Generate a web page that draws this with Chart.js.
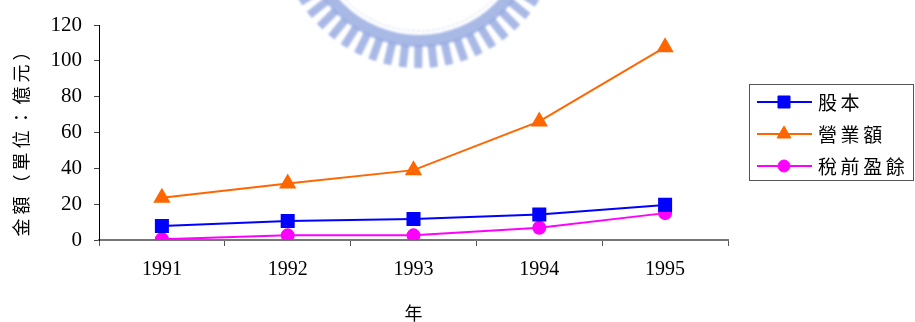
<!DOCTYPE html>
<html>
<head>
<meta charset="utf-8">
<script src="https://cdn.jsdelivr.net/npm/chart.js@4/dist/chart.umd.min.js"></script>
<style>
  html, body { margin: 0; padding: 0; background: #fff; }
  #wrap { width: 915px; height: 322px; }
</style>
</head>
<body>
<div id="wrap"><canvas id="c" width="915" height="322"></canvas></div>
<script>
// Years on the horizontal axis
const years = ['1991', '1992', '1993', '1994', '1995'];
// Amounts in 億元
const capital = [7.8, 10.6, 11.7, 14.2, 19.6];       // 股本
const revenue = [23.6, 31.5, 39.0, 66.2, 107.6];     // 營業額
const pretaxProfit = [0.4, 2.6, 2.6, 6.8, 15.0];     // 稅前盈餘
const seriesNames = ['股本', '營業額', '稅前盈餘'];
const yTitle = '金額（單位：億元）';
const xTitle = '年';

const CJK = '"Noto Sans CJK TC", "Noto Sans CJK SC", sans-serif';
const SERIF = '"Liberation Serif", "DejaVu Serif", serif';

// draw a string one glyph at a time with extra spacing
function spacedText(ctx, text, x, y, gap) {
  let cx = x;
  for (const ch of text) {
    ctx.fillText(ch, cx, y);
    cx += ctx.measureText(ch).width + gap;
  }
  return cx;
}
function spacedWidth(ctx, text, gap) {
  let w = 0;
  for (const ch of text) w += ctx.measureText(ch).width + gap;
  return w - gap;
}

// faint emblem behind the top of the plot
const emblem = {
  id: 'emblem',
  beforeDraw(chart) {
    const ctx = chart.ctx;
    const cx = 419, cy = -72;
    ctx.save();
    ctx.filter = 'blur(0.9px)';
    ctx.fillStyle = 'rgba(140,162,222,0.75)';
    // solid band
    ctx.beginPath();
    ctx.arc(cx, cy, 119, 0, Math.PI);
    ctx.arc(cx, cy, 107, Math.PI, 0, true);
    ctx.closePath();
    ctx.fill();
    // teeth
    const step = 0.112;
    for (let a = 0.12; a < Math.PI - 0.08; a += step) {
      ctx.save();
      ctx.translate(cx, cy);
      ctx.rotate(a - Math.PI / 2);
      ctx.fillRect(-4, 117, 8, 23);
      ctx.restore();
    }
    // thin inner ring
    ctx.strokeStyle = 'rgba(160,176,228,0.55)';
    ctx.lineWidth = 1;
    ctx.setLineDash([3, 2]);
    ctx.beginPath();
    ctx.arc(cx, cy, 103, 0.2, Math.PI - 0.2);
    ctx.stroke();
    ctx.restore();
  }
};

// axis titles and boxed legend
const decorations = {
  id: 'decorations',
  afterDraw(chart) {
    const ctx = chart.ctx;
    const area = chart.chartArea;
    ctx.save();
    // vertical y title
    ctx.font = '18px ' + CJK;
    ctx.fillStyle = '#000';
    ctx.textBaseline = 'middle';
    ctx.textAlign = 'left';
    const gap = 4;
    const w = spacedWidth(ctx, yTitle, gap);
    ctx.translate(21, (area.top + area.bottom) / 2 + 7);
    ctx.rotate(-Math.PI / 2);
    spacedText(ctx, yTitle, -w / 2, 0, gap);
    ctx.restore();

    // x title
    ctx.save();
    ctx.font = '18px ' + CJK;
    ctx.fillStyle = '#000';
    ctx.textAlign = 'center';
    ctx.textBaseline = 'middle';
    ctx.fillText(xTitle, (area.left + area.right) / 2, 313);
    ctx.restore();

    // legend
    ctx.save();
    const bx = 749.5, by = 84.5, bw = 164, bh = 96;
    ctx.strokeStyle = '#555';
    ctx.lineWidth = 1;
    ctx.strokeRect(bx, by, bw, bh);
    const rows = [102, 134, 166];
    ctx.font = '19px ' + CJK;
    ctx.textBaseline = 'middle';
    ctx.textAlign = 'left';
    chart.data.datasets.forEach((ds, i) => {
      const y = rows[i];
      ctx.strokeStyle = ds.borderColor;
      ctx.fillStyle = ds.borderColor;
      ctx.lineWidth = 2;
      ctx.beginPath();
      ctx.moveTo(757, y);
      ctx.lineTo(812, y);
      ctx.stroke();
      ctx.lineWidth = 1;
      Chart.helpers.drawPoint(ctx, {
        pointStyle: ds.pointStyle,
        radius: ds.pointRadius,
        borderWidth: 1
      }, 784, y);
      ctx.fillStyle = '#000';
      spacedText(ctx, ds.label, 818, y + 1, 3.6);
    });
    ctx.restore();
  }
};

function styled(label, data, color, style, radius) {
  return {
    label, data,
    borderColor: color,
    backgroundColor: color,
    pointBackgroundColor: color,
    pointBorderColor: color,
    pointStyle: style,
    pointRadius: radius,
    pointHoverRadius: radius,
    borderWidth: 2,
    tension: 0,
    fill: false
  };
}

new Chart(document.getElementById('c'), {
  type: 'line',
  data: {
    labels: years,
    datasets: [
      styled(seriesNames[0], capital, '#0000FF', 'rect', 8.5),
      styled(seriesNames[1], revenue, '#FF6600', 'triangle', 8),
      styled(seriesNames[2], pretaxProfit, '#FF00FF', 'circle', 6)
    ]
  },
  options: {
    responsive: false,
    animation: false,
    devicePixelRatio: 1,
    layout: { padding: { left: 0, right: 187, top: 25, bottom: 0 } },
    plugins: { legend: { display: false }, tooltip: { enabled: false } },
    scales: {
      x: {
        type: 'category',
        offset: true,
        afterFit(s) { s.height = 82; },
        grid: {
          offset: true,
          drawOnChartArea: false,
          drawTicks: true,
          tickLength: 6,
          color: '#555',
          lineWidth: 1
        },
        border: { color: '#777', width: 2 },
        ticks: {
          color: '#000',
          padding: 12,
          font: { family: SERIF, size: 20 },
          maxRotation: 0
        }
      },
      y: {
        min: 0,
        max: 120,
        afterFit(s) { s.width = 99; },
        grid: {
          drawOnChartArea: false,
          drawTicks: true,
          tickLength: 5,
          color: '#444',
          lineWidth: 1
        },
        border: { color: '#000', width: 1 },
        ticks: {
          stepSize: 20,
          color: '#000',
          padding: 12,
          font: { family: SERIF, size: 21 }
        }
      }
    }
  },
  plugins: [emblem, decorations]
});
</script>
</body>
</html>
